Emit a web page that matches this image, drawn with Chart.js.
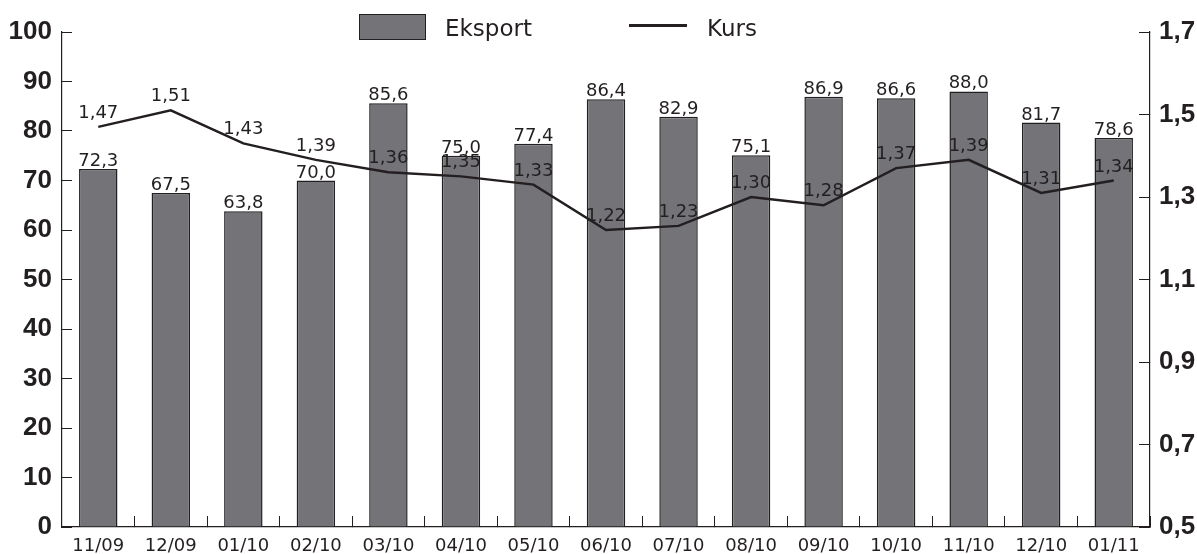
<!DOCTYPE html>
<html>
<head>
<meta charset="utf-8">
<script src="https://cdn.jsdelivr.net/npm/chart.js@4.4.1/dist/chart.umd.min.js"></script>
<style>
    body { margin: 0; background: #fff; }
    #wrap { position: relative; width: 1197px; height: 554px; }
    .leg { position: absolute; font: 23px "DejaVu Sans"; line-height: 23px; color: #231f20; }
</style>
</head>
<body>
<div id="wrap">
    <canvas id="exportChart"></canvas>
    <div class="leg" style="left:359px; top:14px; width:65px; height:24px; background:#737378; border:1px solid #231f20;"></div>
    <div class="leg" style="left:445px; top:17px;">Eksport</div>
    <div class="leg" style="left:629px; top:24px; width:58px; height:2.5px; background:#231f20;"></div>
    <div class="leg" style="left:707px; top:17px;">Kurs</div>
</div>
<script>
const labelsMois = ["11/09", "12/09", "01/10", "02/10", "03/10", "04/10", "05/10", "06/10",
    "07/10", "08/10", "09/10", "10/10", "11/10", "12/10", "01/11"];

const eksport = [72.3, 67.5, 63.8, 70.0, 85.6, 75.0, 77.4, 86.4, 82.9, 75.1, 86.9, 86.6, 88.0, 81.7, 78.6];
const kurs = [1.47, 1.51, 1.43, 1.39, 1.36, 1.35, 1.33, 1.22, 1.23, 1.30, 1.28, 1.37, 1.39, 1.31, 1.34];

const ink = "#231f20";

function comma(value, digits) {
    return value.toFixed(digits).replace(".", ",");
}

// valeurs au-dessus des barres et des points
const valueLabels = {
    id: "valueLabels",
    afterDatasetsDraw(chart) {
        const ctx = chart.ctx;
        ctx.save();
        ctx.font = '18px "DejaVu Sans"';
        ctx.fillStyle = ink;
        ctx.textAlign = "center";
        ctx.textBaseline = "alphabetic";
        chart.data.datasets.forEach((ds, i) => {
            const isLine = ds.type === "line";
            chart.getDatasetMeta(i).data.forEach((el, j) => {
                const txt = comma(ds.data[j], isLine ? 2 : 1);
                ctx.fillText(txt, el.x, el.y - (isLine ? 9 : 3));
            });
        });
        ctx.restore();
    }
};

const tickFont = { family: "Liberation Sans", size: 26, weight: "bold" };

// largeur fixe des axes verticaux, sans marge haute/basse
function fixY(width) {
    return s => {
        s.width = width;
        s.paddingTop = 0;
        s.paddingBottom = 0;
    };
}

new Chart(document.getElementById("exportChart"), {
    type: "bar",
    data: {
        labels: labelsMois,
        datasets: [{
            type: "line",
            label: "Kurs",
            data: kurs,
            yAxisID: "y1",
            borderColor: ink,
            borderWidth: 2.5,
            pointRadius: 0,
            tension: 0,
            order: 0
        }, {
            label: "Eksport",
            data: eksport,
            yAxisID: "y",
            backgroundColor: "#737378",
            borderColor: ink,
            borderWidth: 1.5,
            barPercentage: 0.53,
            categoryPercentage: 1,
            order: 1
        }]
    },
    options: {
        responsive: true,
        maintainAspectRatio: false,
        animation: false,
        layout: { padding: { top: 32 } },
        plugins: {
            legend: { display: false },
            tooltip: { enabled: false }
        },
        scales: {
            x: {
                grid: { drawOnChartArea: false, tickLength: -11, color: ink, offset: true },
                border: { color: ink, width: 1.2 },
                ticks: { font: { family: "DejaVu Sans", size: 18 }, color: ink, padding: 20, maxRotation: 0, autoSkip: false },
                afterFit: s => { s.height = 27; }
            },
            y: {
                position: "left",
                min: 0,
                max: 100,
                grid: { drawOnChartArea: false, tickLength: -10, color: ink },
                border: { color: ink, width: 1.2 },
                ticks: { stepSize: 10, font: tickFont, color: ink, padding: 20 },
                afterFit: fixY(62)
            },
            y1: {
                position: "right",
                min: 0.5,
                max: 1.7,
                grid: { drawOnChartArea: false, tickLength: -11, color: ink },
                border: { color: ink, width: 1.2 },
                ticks: { stepSize: 0.2, font: tickFont, color: ink, padding: 20, callback: v => comma(v, 1) },
                afterFit: fixY(47)
            }
        }
    },
    plugins: [valueLabels]
});
</script>
</body>
</html>
